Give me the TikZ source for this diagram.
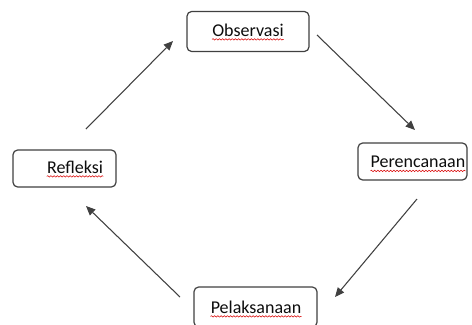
\documentclass[tikz,border=0pt]{standalone}
\usepackage{fontspec}
\setmainfont{Carlito}
\usetikzlibrary{arrows.meta,decorations.pathmorphing}
\begin{document}
\begin{tikzpicture}[x=0.75pt,y=-0.75pt,
  stagebox/.style={draw=black!75,line width=0.9pt,rounded corners=3.5pt,fill=white,inner sep=0pt},
  stagetext/.style={inner sep=0pt,font=\fontsize{13.5}{15}\selectfont,text=black!95},
  flow/.style={draw=black!75,line width=0.8pt,-{Triangle[length=7pt,width=6pt]}},
  wavy/.style={draw=red!85!black,line width=0.4pt,decorate,decoration={snake,amplitude=0.55pt,segment length=2.4pt}}]
\useasboundingbox (0,0) rectangle (472,325);
% boxes
\node[stagebox,minimum width=91.5pt,minimum height=30pt] (obs) at (248,31.5) {};
\node[stagebox,minimum width=81.75pt,minimum height=27.75pt] (per) at (412.5,161.5) {};
\node[stagebox,minimum width=77.25pt,minimum height=27.75pt] (ref) at (64.5,168.5) {};
\node[stagebox,minimum width=92.25pt,minimum height=30pt] (pel) at (255.5,307) {};
% labels
\node[stagetext] (tobs) at (248,30) {Observasi};
\node[stagetext] (tper) at (418,162) {Perencanaan};
\node[stagetext] (tref) at (75,167) {Refleksi};
\node[stagetext] (tpel) at (256,307) {Pelaksanaan};
\foreach \t in {tobs,tper,tref,tpel}{
  \draw[wavy] ([yshift=-2.4pt]\t.base west) -- ([yshift=-2.4pt]\t.base east);
}
% connector ends
\coordinate (a1) at (317,35);
\coordinate (a2) at (415,130);
\coordinate (b1) at (417,199);
\coordinate (b2) at (335,297);
\coordinate (c1) at (180,297);
\coordinate (c2) at (86,206);
\coordinate (d1) at (86,129);
\coordinate (d2) at (173,41);
\draw[flow] (a1) -- (a2);
\draw[flow] (b1) -- (b2);
\draw[flow] (c1) -- (c2);
\draw[flow] (d1) -- (d2);
\end{tikzpicture}
\end{document}
